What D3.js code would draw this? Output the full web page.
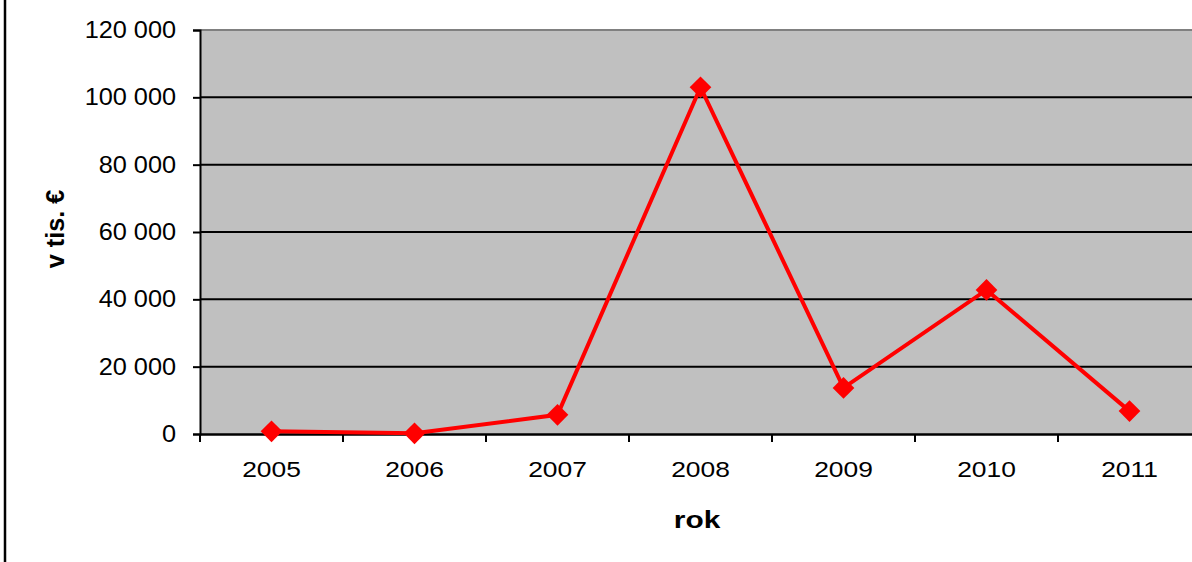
<!DOCTYPE html>
<html>
<head>
<meta charset="utf-8">
<script src="https://cdn.jsdelivr.net/npm/d3@7"></script>
<style>
  body { margin: 0; background: #fff; }
  svg { display: block; font-family: "Liberation Sans", Arial, sans-serif; }
</style>
</head>
<body>
<svg id="chart"></svg>
<script>
// chart data
const years = ["2005", "2006", "2007", "2008", "2009", "2010", "2011"];
const values = [800, 200, 5700, 103000, 13700, 42800, 6800];
const yTicks = [0, 20000, 40000, 60000, 80000, 100000, 120000];

const width = 1192, height = 562;
const margin = { top: 30, right: -9, bottom: 128, left: 200 };
const chartWidth = width - margin.left - margin.right;
const chartHeight = height - margin.top - margin.bottom;

const svg = d3.select("#chart")
    .attr("width", width)
    .attr("height", height);

// left frame line
svg.append("line")
    .attr("x1", 5).attr("x2", 5)
    .attr("y1", 0).attr("y2", height)
    .attr("stroke", "#000")
    .attr("stroke-width", 2.5);

const g = svg.append("g")
    .attr("transform", `translate(${margin.left}, ${margin.top})`);

const xScale = d3.scaleBand()
    .domain(years)
    .range([0, chartWidth]);

const yScale = d3.scaleLinear()
    .domain([0, 120000])
    .range([chartHeight, 0]);

// plot background
g.append("rect")
    .attr("x", 0).attr("y", 0)
    .attr("width", chartWidth)
    .attr("height", chartHeight)
    .attr("fill", "#c0c0c0");

// top border
g.append("line")
    .attr("x1", 0).attr("x2", chartWidth)
    .attr("y1", 0).attr("y2", 0)
    .attr("stroke", "#808080")
    .attr("stroke-width", 2);

// gridlines
g.selectAll(".grid")
    .data(yTicks.filter(d => d > 0 && d < 120000))
    .enter()
    .append("line")
    .attr("x1", 0).attr("x2", chartWidth)
    .attr("y1", d => yScale(d)).attr("y2", d => yScale(d))
    .attr("stroke", "#000")
    .attr("stroke-width", 2);

const fmt = d => d3.format(",")(d).replace(/,/g, " ");

// widen tick text around its anchor (the original picture is stretched sideways)
function widen(sel, k) {
    sel.each(function() {
        const x = +this.getAttribute("x") || 0;
        this.setAttribute("x", x / k);
        this.setAttribute("transform", `scale(${k},1)`);
    });
}

// y axis
const yAxis = g.append("g")
    .call(d3.axisLeft(yScale).tickValues(yTicks).tickFormat(fmt).tickSize(7).tickPadding(17));
yAxis.select(".domain").attr("stroke-width", 2);
yAxis.selectAll(".tick line").attr("stroke-width", 2);
yAxis.selectAll("text").style("font-size", "23px").attr("fill", "#000").call(widen, 1.1);

// x axis
const xAxis = g.append("g")
    .attr("transform", `translate(0, ${chartHeight})`)
    .call(d3.axisBottom(xScale).tickSize(0).tickPadding(27));
xAxis.select(".domain").attr("stroke-width", 2.5);
xAxis.selectAll("text").style("font-size", "22px").attr("fill", "#000").call(widen, 1.2);

// x category separators
xAxis.selectAll(".sep")
    .data(years)
    .enter()
    .append("line")
    .attr("x1", d => xScale(d)).attr("x2", d => xScale(d))
    .attr("y1", 0).attr("y2", 8)
    .attr("stroke", "#000")
    .attr("stroke-width", 2);

// axis titles
g.append("text")
    .attr("transform", `translate(497, ${chartHeight + 94}) scale(1.3,1)`)
    .style("text-anchor", "middle")
    .style("font-size", "23px")
    .style("font-weight", "bold")
    .text("rok");

g.append("text")
    .attr("transform", `translate(-136, ${chartHeight / 2 - 3}) rotate(-90) scale(1.05,1.1)`)
    .style("text-anchor", "middle")
    .style("font-size", "24px")
    .style("font-weight", "bold")
    .text("v tis. €");

// series line
const cx = d => xScale(d) + xScale.bandwidth() / 2;
const line = d3.line()
    .x((d, i) => cx(years[i]))
    .y(d => yScale(d));

g.append("path")
    .datum(values)
    .attr("d", line)
    .attr("fill", "none")
    .attr("stroke", "#ff0000")
    .attr("stroke-width", 4);

// diamond markers
g.selectAll(".marker")
    .data(values)
    .enter()
    .append("path")
    .attr("d", d3.symbol().type(d3.symbolDiamond2).size(300))
    .attr("transform", (d, i) => `translate(${cx(years[i])}, ${yScale(d)})`)
    .attr("fill", "#ff0000");
</script>
</body>
</html>
